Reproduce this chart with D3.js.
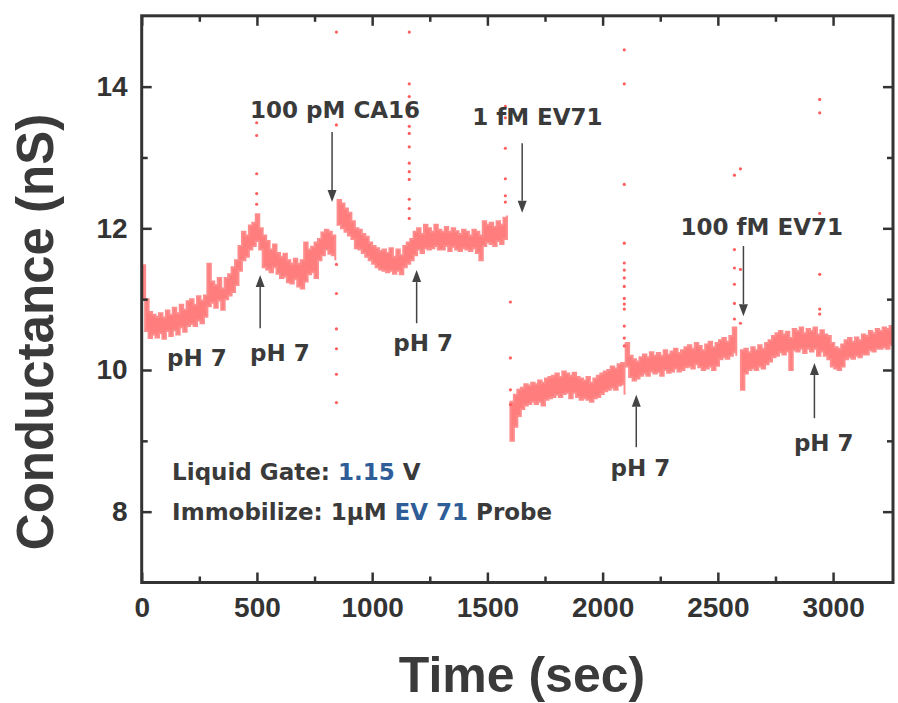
<!DOCTYPE html>
<html><head><meta charset="utf-8">
<script src="https://cdn.jsdelivr.net/npm/d3@7"></script>
<style>body{margin:0;background:#fff}svg{display:block}</style>
</head><body><svg id="c" width="898" height="703"></svg>
<script>
// ---- axis ticks ----
const xTicks = [0, 500, 1000, 1500, 2000, 2500, 3000];
const xMinor = [250, 750, 1250, 1750, 2250, 2750];
const yTicks = [8, 10, 12, 14];
const yMinor = [9, 11, 13];

// ---- trace: segments sampled every 15 s, upper / lower edge of the noisy band (nS) ----
const sampleStep = 15;
const segStart = [0, 850, 1600, 2100, 2600];
const upperA = [11.48,11.0,10.82,10.78,10.75,10.8,10.74,10.84,10.78,10.88,10.8,10.92,10.85,10.97,11.0,10.92,11.04,10.98,11.05,11.5,11.25,11.2,11.3,11.15,11.3,11.35,11.45,11.55,11.75,11.95,11.9,12.04,12.08,12.2,12.0,11.9,11.82,11.7,11.77,11.65,11.6,11.64,11.55,11.5,11.57,11.5,11.55,11.8,11.7,11.74,11.8,11.85,11.94,11.98,11.95,11.9,11.85];
const lowerA = [11.0,10.55,10.45,10.5,10.46,10.52,10.44,10.55,10.48,10.56,10.5,10.6,10.54,10.62,10.65,10.62,10.7,10.66,10.75,10.9,10.95,10.88,10.98,10.85,11.0,11.05,11.1,11.2,11.4,11.55,11.6,11.7,11.75,11.82,11.7,11.45,11.42,11.38,11.45,11.36,11.3,11.32,11.24,11.22,11.28,11.18,11.15,11.25,11.35,11.38,11.3,11.55,11.62,11.7,11.64,11.62,11.55];
const upperB = [12.4,12.35,12.28,12.22,12.1,12.0,11.98,11.92,11.88,11.8,11.75,11.72,11.68,11.7,11.65,11.72,11.6,11.7,11.62,11.75,11.8,11.85,11.95,12.0,11.92,12.05,12.0,11.95,12.05,11.98,11.95,12.02,11.95,12.0,11.96,11.92,11.98,11.95,11.9,11.98,11.95,11.9,12.1,12.05,12.08,12.02,12.1,12.05,12.15,12.18];
const lowerB = [12.05,12.0,11.95,11.9,11.85,11.72,11.7,11.65,11.6,11.55,11.5,11.45,11.42,11.4,11.38,11.4,11.36,11.4,11.35,11.45,11.5,11.55,11.62,11.7,11.65,11.72,11.7,11.72,11.75,11.7,11.7,11.75,11.68,11.74,11.7,11.68,11.72,11.7,11.68,11.72,11.65,11.55,11.75,11.8,11.78,11.75,11.82,11.78,11.85,11.9];
const upperC = [9.55,9.65,9.72,9.75,9.8,9.78,9.82,9.8,9.85,9.82,9.88,9.9,9.92,9.95,9.9,9.98,9.95,9.92,9.96,9.9,9.88,9.85,9.9,9.82,9.88,9.92,9.95,9.98,10.0,10.05,10.02,10.08,10.1,10.0];
const lowerC = [9.0,9.2,9.35,9.45,9.5,9.52,9.55,9.52,9.55,9.5,9.58,9.6,9.62,9.65,9.62,9.66,9.68,9.6,9.68,9.62,9.58,9.6,9.58,9.55,9.6,9.62,9.66,9.7,9.72,9.75,9.72,9.78,9.8,9.65];
const upperD = [10.38,10.2,10.15,10.12,10.18,10.22,10.18,10.25,10.2,10.24,10.2,10.28,10.22,10.26,10.3,10.24,10.28,10.32,10.35,10.3,10.38,10.34,10.28,10.36,10.4,10.32,10.38,10.42,10.45,10.4,10.48,10.6,10.5];
const lowerD = [10.05,9.9,9.85,9.88,9.92,9.95,9.92,9.98,9.95,9.97,9.92,10.0,9.96,9.98,10.02,9.98,10.0,10.04,10.05,10.02,10.08,10.04,10.0,10.02,10.05,10.0,10.06,10.15,10.18,10.16,10.2,10.25,10.2];
const upperE = [10.28,10.3,10.25,10.32,10.28,10.35,10.3,10.38,10.42,10.48,10.52,10.55,10.5,10.54,10.45,10.58,10.55,10.6,10.52,10.58,10.55,10.6,10.5,10.56,10.5,10.48,10.38,10.32,10.3,10.36,10.42,10.45,10.4,10.46,10.42,10.5,10.48,10.55,10.52,10.58,10.55,10.6,10.58,10.62,10.66];
const lowerE = [9.72,9.95,10.0,10.02,10.0,10.05,10.02,10.08,10.12,10.18,10.2,10.25,10.22,10.26,10.0,10.28,10.26,10.3,10.24,10.3,10.26,10.3,10.2,10.26,10.2,10.15,10.05,10.02,10.0,10.05,10.15,10.18,10.16,10.2,10.18,10.22,10.22,10.28,10.26,10.3,10.3,10.32,10.3,10.35,10.38];

// ---- isolated spike points (injection transients) ----
const outlierT = [499,499,499,499,499, 845,845,845,845,845,845,845,845,
  1161,1161,1161,1161,1161,1161,1161,1161,1161,1161,1161,1161,1161,1161,
  1578,1578,1578,1578,1578,1578, 1600,1600,1600,1600,
  2094,2094,2094,2094,2094,2094,2094,2094,2094,2094,2094,2094,2094,2094,
  2572,2572,2572,2572,2572,2572, 2598,2598,2598,
  2942,2942,2942,2942,2942,2942];
const outlierV = [13.49,13.31,12.77,12.49,12.34, 14.77,13.46,11.49,11.08,10.58,10.3,9.94,9.54,
  14.77,14.04,13.86,13.72,13.58,13.44,13.34,13.15,12.92,12.8,12.69,12.41,12.28,12.14,
  13.72,13.56,13.13,12.7,12.46,12.37, 10.96,10.17,9.72,9.51,
  14.52,14.04,12.62,11.79,11.51,11.41,11.3,11.18,11.01,10.93,10.86,10.62,10.45,10.34,
  12.75,11.7,11.44,11.21,10.94,10.72, 12.84,11.42,10.66,
  13.82,13.63,12.21,11.35,10.86,10.79];

// ---- annotations ----
const labelText = ["100 pM CA16", "1 fM EV71", "100 fM EV71", "pH 7", "pH 7", "pH 7", "pH 7", "pH 7"];
const labelT = [470, 1434, 2338, 110, 470, 1092, 2034, 2830];
const labelV = [13.56, 13.46, 11.91, 10.06, 10.13, 10.27, 8.5, 8.86];
const arrowT = [514, 826, 1193, 1651, 2611, 2146, 2919];
const arrowFrom = [10.59, 13.36, 10.66, 13.2, 11.75, 8.91, 9.32];
const arrowTip = [11.34, 12.37, 11.41, 12.22, 10.76, 9.65, 10.1];

const svg = d3.select("#c");
const L = 141.7, R = 893, T = 15.8, B = 582.5;
const x = d3.scaleLinear().domain([0, 3260]).range([L, R]);
const y = d3.scaleLinear().domain([7, 15]).range([B, T]);
const dark = "#333333";
const textDark = "#3a3a3a";
const blue = "#2f5d98";

svg.append("clipPath").attr("id", "clip").append("rect")
  .attr("x", L).attr("y", T).attr("width", R - L).attr("height", B - T);

// trace band
const segs = [[upperA, lowerA], [upperB, lowerB], [upperC, lowerC], [upperD, lowerD], [upperE, lowerE]];
const area = d3.area()
  .x(d => x(d.t)).y0(d => y(d.lo)).y1(d => y(d.hi))
  .curve(d3.curveStepAfter);
const gTrace = svg.append("g").attr("clip-path", "url(#clip)");
segs.forEach(([up, lo], i) => {
  const pts = up.map((u, k) => ({ t: segStart[i] + k * sampleStep, hi: u, lo: lo[k] }));
  gTrace.append("path").datum(pts).attr("d", area)
    .attr("fill", "#ff7d7d").attr("stroke", "#ff8c8c").attr("stroke-width", 2)
    .attr("stroke-linejoin", "miter");
});
gTrace.selectAll("circle.o").data(outlierT.map((t, i) => ({ t, v: outlierV[i] })))
  .join("circle").attr("class", "o")
  .attr("cx", d => x(d.t)).attr("cy", d => y(d.v)).attr("r", 1.6)
  .attr("fill", "#ff5e5e");

// axes (ticks inward)
function styleAxis(g) {
  g.select(".domain").remove();
  g.selectAll(".tick line").attr("stroke", dark).attr("stroke-width", 2.5);
  g.selectAll(".tick text").attr("fill", dark)
    .style("font-family", "'Liberation Sans', Arial, sans-serif")
    .style("font-weight", "bold").style("font-size", "28px");
}
svg.append("g").attr("transform", `translate(0,${B})`)
  .call(d3.axisBottom(x).tickValues(xTicks).tickSize(-10).tickPadding(14.5).tickFormat(d3.format("d")))
  .call(styleAxis);
svg.append("g").attr("transform", `translate(0,${B})`)
  .call(d3.axisBottom(x).tickValues(xMinor).tickSize(-6).tickFormat(""))
  .call(styleAxis);
svg.append("g").attr("transform", `translate(0,${T})`)
  .call(d3.axisTop(x).tickValues(xTicks).tickSize(-10).tickFormat(""))
  .call(styleAxis);
svg.append("g").attr("transform", `translate(0,${T})`)
  .call(d3.axisTop(x).tickValues(xMinor).tickSize(-6).tickFormat(""))
  .call(styleAxis);
svg.append("g").attr("transform", `translate(${L},0)`)
  .call(d3.axisLeft(y).tickValues(yTicks).tickSize(-10).tickPadding(14))
  .call(styleAxis);
svg.append("g").attr("transform", `translate(${L},0)`)
  .call(d3.axisLeft(y).tickValues(yMinor).tickSize(-6).tickFormat(""))
  .call(styleAxis);
svg.append("g").attr("transform", `translate(${R},0)`)
  .call(d3.axisRight(y).tickValues(yTicks).tickSize(-10).tickFormat(""))
  .call(styleAxis);
svg.append("g").attr("transform", `translate(${R},0)`)
  .call(d3.axisRight(y).tickValues(yMinor).tickSize(-6).tickFormat(""))
  .call(styleAxis);

// frame
svg.append("rect").attr("x", L).attr("y", T).attr("width", R - L).attr("height", B - T)
  .attr("fill", "none").attr("stroke", dark).attr("stroke-width", 3);

// arrows
const gA = svg.append("g");
arrowT.forEach((t, i) => {
  const xp = x(t), y0 = y(arrowFrom[i]), y1 = y(arrowTip[i]);
  const dir = Math.sign(y1 - y0);
  const hl = 12, hw = 4.5;
  gA.append("line").attr("x1", xp).attr("x2", xp).attr("y1", y0).attr("y2", y1 - dir * hl)
    .attr("stroke", "#444").attr("stroke-width", 1.5);
  gA.append("path")
    .attr("d", `M${xp},${y1}L${xp - hw},${y1 - dir * hl}L${xp + hw},${y1 - dir * hl}Z`)
    .attr("fill", "#444");
});

// labels
const annFont = "'DejaVu Sans', Verdana, sans-serif";
svg.append("g").selectAll("text").data(labelText).join("text")
  .attr("x", (d, i) => x(labelT[i])).attr("y", (d, i) => y(labelV[i]))
  .attr("fill", textDark).style("font-family", annFont).style("font-weight", "bold")
  .style("font-size", "23px").text(d => d);

// info text
const info1 = svg.append("text").attr("x", x(132)).attr("y", y(8.45))
  .style("font-family", annFont).style("font-weight", "bold").style("font-size", "23px").attr("fill", textDark);
info1.append("tspan").text("Liquid Gate: ");
info1.append("tspan").attr("fill", blue).text("1.15");
info1.append("tspan").text(" V");
const info2 = svg.append("text").attr("x", x(132)).attr("y", y(7.885))
  .style("font-family", annFont).style("font-weight", "bold").style("font-size", "23px").attr("fill", textDark);
info2.append("tspan").text("Immobilize: 1\u00b5M ");
info2.append("tspan").attr("fill", blue).text("EV 71");
info2.append("tspan").text(" Probe");

// axis titles
svg.append("text").attr("transform", "translate(53,332) rotate(-90)")
  .attr("text-anchor", "middle").attr("fill", textDark)
  .style("font-family", "'Liberation Sans', Arial, sans-serif").style("font-weight", "bold")
  .style("font-size", "51px").text("Conductance (nS)");
svg.append("text").attr("x", 522).attr("y", 692)
  .attr("text-anchor", "middle").attr("fill", textDark)
  .style("font-family", "'Liberation Sans', Arial, sans-serif").style("font-weight", "bold")
  .style("font-size", "50px").text("Time (sec)");
</script>
</body></html>
